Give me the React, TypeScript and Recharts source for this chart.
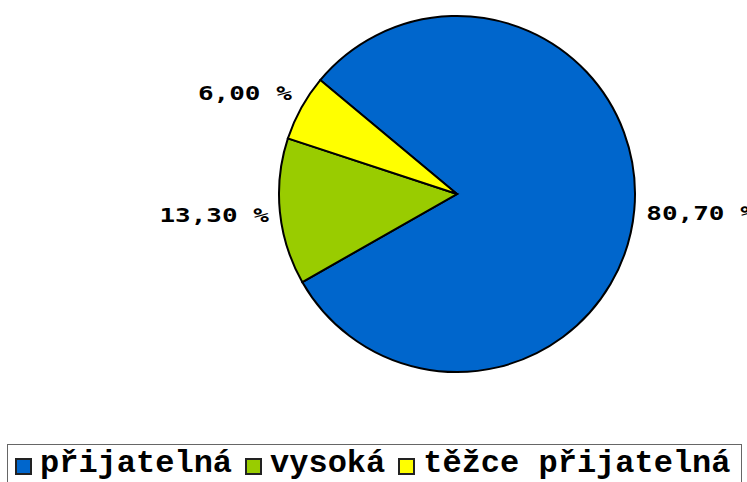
import React from 'react';
import { PieChart, Pie, Cell, Legend } from 'recharts';

const categories = ['přijatelná', 'vysoká', 'těžce přijatelná'];
const values = [80.7, 13.3, 6.0];
const colors = ['#0066CC', '#99CC00', '#FFFF00'];

const data = categories.map((name, i) => ({ name, value: values[i] }));

const RADIAN = Math.PI / 180;

const renderLabel = (props: any) => {
  const { cx, cy, midAngle, outerRadius, value } = props;
  const r = outerRadius + 12;
  const cos = Math.cos(-midAngle * RADIAN);
  const sin = Math.sin(-midAngle * RADIAN);
  const px = cx + r * cos;
  const py = cy + r * sin;
  const right = cos >= 0;
  const ty = py + sin * 20;
  const text = value.toFixed(2).replace('.', ',') + ' %';
  return (
    <text
      x={0}
      y={0}
      transform={`translate(${right ? px : px + 1},${ty}) scale(1.3,1)`}
      textAnchor={right ? 'start' : 'end'}
      dominantBaseline="central"
      fontFamily="'DejaVu Sans Mono', monospace"
      fontWeight="bold"
      fontSize={20}
      fill="#000"
    >
      {text}
    </text>
  );
};

const renderLegend = () => (
  <div
    style={{
      boxSizing: 'border-box',
      width: 735,
      height: 60,
      border: '1.5px solid #666',
      display: 'flex',
      alignItems: 'center',
      paddingLeft: 7,
      paddingBottom: 20,
      background: '#fff',
    }}
  >
    {categories.map((c, i) => (
      <div key={c} style={{ display: 'flex', alignItems: 'center', marginRight: 13 }}>
        <div
          style={{
            width: 17,
            height: 17,
            boxSizing: 'border-box',
            background: colors[i],
            border: '2px solid #222',
            marginRight: 8,
            marginTop: 4,
          }}
        />
        <span
          style={{
            fontFamily: "'Courier New', 'Nimbus Mono PS', 'Nimbus Mono L', FreeMono, Courier, 'Liberation Mono', monospace",
            fontWeight: 'bold',
            fontSize: 32,
            lineHeight: '36px',
            color: '#000',
            whiteSpace: 'pre',
          }}
        >
          {c}
        </span>
      </div>
    ))}
  </div>
);

export default function App() {
  return (
    <div style={{ position: 'fixed', left: 0, top: 0, width: 747, height: 482, overflow: 'hidden', background: '#fff' }}>
      <PieChart width={747} height={482} margin={{ top: 0, right: 0, bottom: 0, left: 0 }}>
        <Pie
          data={data}
          dataKey="value"
          nameKey="name"
          cx={457}
          cy={194}
          outerRadius={178}
          startAngle={140.2}
          endAngle={-219.8}
          stroke="#000"
          strokeWidth={2}
          label={renderLabel}
          labelLine={false}
          isAnimationActive={false}
        >
          {data.map((d, i) => (
            <Cell key={d.name} fill={colors[i]} />
          ))}
        </Pie>
        <Legend
          content={renderLegend}
          wrapperStyle={{ position: 'absolute', left: 7, top: 444, width: 735, height: 60 }}
        />
      </PieChart>
    </div>
  );
}
